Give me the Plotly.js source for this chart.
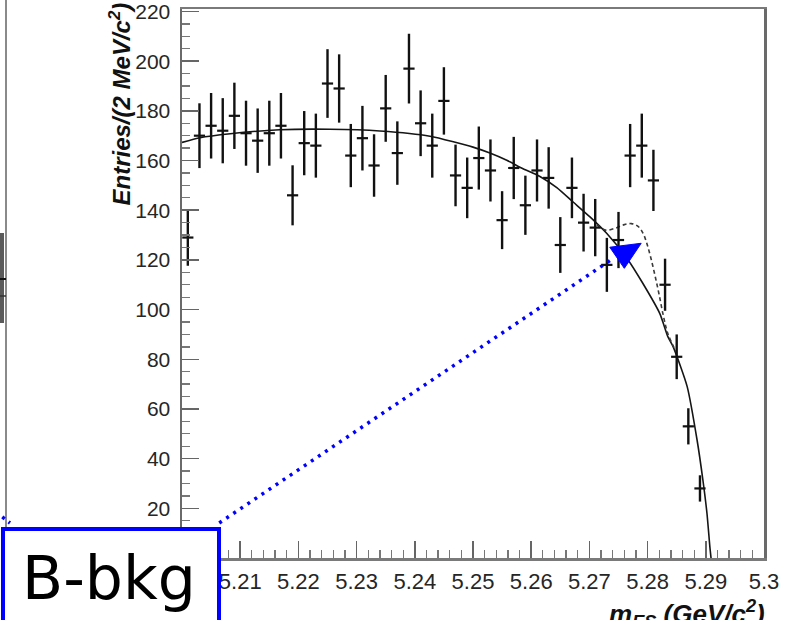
<!DOCTYPE html>
<html>
<head>
<meta charset="utf-8">
<script src="https://cdn.plot.ly/plotly-3.0.1.min.js"></script>
<style>
  html, body { margin: 0; padding: 0; background: #ffffff; }
  #plot { width: 787px; height: 620px; }
</style>
</head>
<body>
<div id="plot"></div>
<script>
// m_ES histogram: 2 MeV/c^2 bins, first bin centred at 5.201 GeV/c^2
const binCenters = [
  5.201, 5.203, 5.205, 5.207, 5.209, 5.211, 5.213, 5.215, 5.217, 5.219,
  5.221, 5.223, 5.225, 5.227, 5.229, 5.231, 5.233, 5.235, 5.237, 5.239,
  5.241, 5.243, 5.245, 5.247, 5.249, 5.251, 5.253, 5.255, 5.257, 5.259,
  5.261, 5.263, 5.265, 5.267, 5.269, 5.271, 5.273, 5.275, 5.277, 5.279,
  5.281, 5.283, 5.285, 5.287, 5.289
];
const entries = [
  129, 170, 174, 172, 178, 171, 168, 171, 174, 146,
  167, 166, 191, 189, 162, 169, 158, 181, 163, 197,
  175, 166, 184, 154, 149, 161, 156, 136, 157, 142,
  156, 153, 126, 149, 135, 133, 118, 128, 162, 166,
  152, 110, 81, 53, 28
];

// ARGUS background fit (solid)
const bkgX = [
  5.2000, 5.2031, 5.2083, 5.2168, 5.2254, 5.2340, 5.2426, 5.2500, 5.2529,
  5.2558, 5.2586, 5.2615, 5.2644, 5.2672, 5.2701, 5.2730, 5.2765, 5.2792,
  5.2821, 5.2835, 5.2844, 5.2868, 5.2885, 5.2895, 5.2902, 5.2907, 5.2909
];
const bkgY = [
  167.3, 169.2, 170.8, 172.4, 172.6, 171.9, 169.8, 165.4, 163.0,
  160.1, 156.7, 153.6, 149.1, 143.3, 137.3, 130.6, 120.5, 110.5,
  98.4, 89.0, 85.0, 69.0, 47.5, 31.4, 18.0, 4.5, 0
];

// background + signal (dashed), only where it departs from the background
const totX = [
  5.2713, 5.2728, 5.2745, 5.2760, 5.2772, 5.2783, 5.2792, 5.2799,
  5.2806, 5.2813, 5.2820, 5.2827, 5.2835, 5.2849
];
const totY = [
  134.1, 132.0, 132.8, 134.2, 134.6, 133.6, 130.8, 126.4,
  120.4, 113.4, 105.8, 97.6, 90.2, 83.0
];

// axis ticks
const xTickVals = [5.2, 5.21, 5.22, 5.23, 5.24, 5.25, 5.26, 5.27, 5.28, 5.29, 5.3];
const xTickText = ["5.2", "5.21", "5.22", "5.23", "5.24", "5.25", "5.26", "5.27", "5.28", "5.29", "5.3"];
const yTickVals = [0, 20, 40, 60, 80, 100, 120, 140, 160, 180, 200, 220];
const yTickText = ["0", "20", "40", "60", "80", "100", "120", "140", "160", "180", "200", "220"];

// label box and pointer
const boxLabel = "B-bkg";
const pointerTail = [5.2064, 14.1];
const pointerTip = [5.2739, 120.3];
const pointerHead = [[5.2735, 125.1], [5.2789, 126.7], [5.2760, 116.6]];

// pixel frame of the plotting area
const L = 182, R = 764, T = 9, B = 558;
const W = 787, H = 620;
const px = v => (v - L) / (R - L);
const py = v => (B - v) / (B - T);

const traces = [
  {
    x: bkgX, y: bkgY, type: 'scatter', mode: 'lines',
    line: { color: '#151515', width: 1.6, shape: 'spline', smoothing: 0.6 },
    hoverinfo: 'skip', showlegend: false
  },
  {
    x: totX, y: totY, type: 'scatter', mode: 'lines',
    line: { color: '#3a3a3a', width: 1.6, dash: '4px,3px', shape: 'spline', smoothing: 1 },
    hoverinfo: 'skip', showlegend: false
  },
  {
    x: binCenters, y: entries, type: 'scatter', mode: 'markers',
    marker: { symbol: 'line-ew', size: 8, color: '#111', line: { color: '#111', width: 2.2 } },
    error_y: { type: 'sqrt', visible: true, thickness: 2.4, width: 0, color: '#111' },
    hoverinfo: 'skip', showlegend: false
  }
];

const tickFont = { family: 'Liberation Sans, Arial, sans-serif', color: '#262626' };

const layout = {
  width: W, height: H,
  margin: { l: L, r: W - R, t: T, b: H - B, pad: 0 },
  paper_bgcolor: '#ffffff',
  plot_bgcolor: '#ffffff',
  showlegend: false,
  xaxis: {
    range: [5.2, 5.3],
    tickmode: 'array', tickvals: xTickVals, ticktext: xTickText,
    ticks: 'inside', ticklen: 17, tickwidth: 1.5, tickcolor: '#666',
    minor: { dtick: 0.002, tick0: 5.2, ticks: 'inside', ticklen: 8, tickwidth: 1.3, tickcolor: '#777', showgrid: false },
    showline: true, linecolor: '#7a7a7a', linewidth: 2.5, mirror: true,
    showgrid: false, zeroline: false,
    tickfont: Object.assign({ size: 22 }, tickFont),
    ticklabelstandoff: 2,
    ticklabeloverflow: 'allow'
  },
  yaxis: {
    range: [0, 221],
    tickmode: 'array', tickvals: yTickVals, ticktext: yTickText,
    ticks: 'inside', ticklen: 17, tickwidth: 1.5, tickcolor: '#666',
    minor: { dtick: 5, tick0: 0, ticks: 'inside', ticklen: 8, tickwidth: 1.3, tickcolor: '#777', showgrid: false },
    showline: true, linecolor: '#6a6a6a', linewidth: 2.5, mirror: true,
    showgrid: false, zeroline: false,
    tickfont: Object.assign({ size: 21 }, tickFont),
    ticklabelstandoff: 5,
    ticklabeloverflow: 'allow'
  },
  shapes: [
    // edge of the neighbouring pad on the left
    { type: 'line', xref: 'paper', yref: 'paper', x0: px(6), x1: px(6), y0: py(-2), y1: py(530),
      line: { color: '#8a8a8a', width: 2 }, layer: 'above' },
    { type: 'rect', xref: 'paper', yref: 'paper', x0: px(-2), x1: px(4), y0: py(233), y1: py(323),
      line: { width: 0 }, fillcolor: '#5a5a5a', layer: 'above' },
    { type: 'line', xref: 'paper', yref: 'paper', x0: px(-2), x1: px(6), y0: py(279), y1: py(279),
      line: { color: '#111', width: 2 }, layer: 'above' },
    { type: 'line', xref: 'paper', yref: 'paper', x0: px(-2), x1: px(6), y0: py(296), y1: py(296),
      line: { color: '#333', width: 1.5 }, layer: 'above' },
    { type: 'line', xref: 'paper', yref: 'paper', x0: px(-4), x1: px(10), y0: py(512), y1: py(523),
      line: { color: '#0000ff', width: 3.5, dash: '3px,5px' }, layer: 'above' },
    // dotted pointer to the background curve
    { type: 'line', xref: 'x', yref: 'y',
      x0: pointerTail[0], y0: pointerTail[1], x1: pointerTip[0], y1: pointerTip[1],
      line: { color: '#0000ff', width: 3.5, dash: '3px,5.5px' }, layer: 'above' },
    { type: 'path', xref: 'x', yref: 'y',
      path: 'M ' + pointerHead.map(p => p[0] + ',' + p[1]).join(' L ') + ' Z',
      fillcolor: '#0000ff', line: { color: '#0000ff', width: 1 }, layer: 'above' },
    // label box
    { type: 'rect', xref: 'paper', yref: 'paper', x0: px(3), x1: px(219), y0: py(529), y1: py(650),
      fillcolor: '#ffffff', line: { color: '#0000ff', width: 4 }, layer: 'above' }
  ],
  annotations: [
    {
      text: '<b><i>Entries/(2 MeV/c<sup>2</sup>)</i></b>',
      xref: 'paper', yref: 'paper', x: px(120), y: py(1),
      xanchor: 'center', yanchor: 'top', textangle: -90, showarrow: false,
      font: { family: 'Liberation Sans, Arial, sans-serif', size: 24, color: '#111' }
    },
    {
      text: '<b><i>m<sub>ES</sub> (GeV/c<sup>2</sup>)</i></b>',
      xref: 'paper', yref: 'paper', x: px(767), y: py(594),
      xanchor: 'right', yanchor: 'top', showarrow: false,
      font: { family: 'Liberation Sans, Arial, sans-serif', size: 26, color: '#111' }
    },
    {
      text: boxLabel,
      xref: 'paper', yref: 'paper', x: px(109), y: py(578),
      xanchor: 'center', yanchor: 'middle', showarrow: false,
      font: { family: 'DejaVu Sans, sans-serif', size: 60, color: '#000' }
    }
  ]
};

Plotly.newPlot('plot', traces, layout, { displayModeBar: false, staticPlot: true });
</script>
</body>
</html>
